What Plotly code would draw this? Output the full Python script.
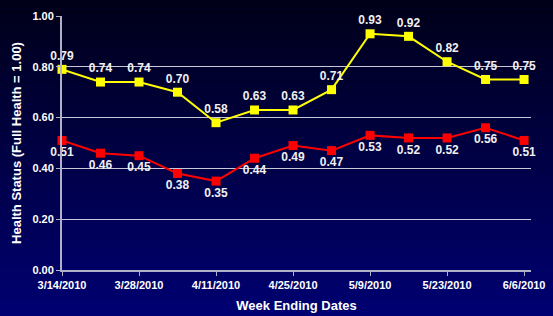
import plotly.graph_objects as go

weeks = ["3/14/2010", "3/21/2010", "3/28/2010", "4/4/2010", "4/11/2010", "4/18/2010", "4/25/2010",
         "5/2/2010", "5/9/2010", "5/16/2010", "5/23/2010", "5/30/2010", "6/6/2010"]
yellow_vals = [0.79, 0.74, 0.74, 0.70, 0.58, 0.63, 0.63, 0.71, 0.93, 0.92, 0.82, 0.75, 0.75]
red_vals = [0.51, 0.46, 0.45, 0.38, 0.35, 0.44, 0.49, 0.47, 0.53, 0.52, 0.52, 0.56, 0.51]
tick_idx = [0, 2, 4, 6, 8, 10, 12]
y_ticks = [0, 0.2, 0.4, 0.6, 0.8, 1.0]

x = list(range(len(weeks)))
font = "Liberation Sans, Arial, sans-serif"

fig = go.Figure()
fig.add_trace(go.Scatter(
    x=x, y=yellow_vals, mode="lines+markers+text",
    line=dict(color="#ffff00", width=2),
    marker=dict(symbol="square", size=9, color="#ffff00"),
    text=[f"{v:.2f}" for v in yellow_vals], textposition="top center",
    textfont=dict(color="#f0f0f0", size=12, family=font, weight="bold"),
    cliponaxis=False, showlegend=False))
fig.add_trace(go.Scatter(
    x=x, y=red_vals, mode="lines+markers+text",
    line=dict(color="#ff0000", width=2),
    marker=dict(symbol="square", size=9, color="#ff0000"),
    text=[f"{v:.2f}" for v in red_vals], textposition="bottom center",
    textfont=dict(color="#f0f0f0", size=12, family=font, weight="bold"),
    cliponaxis=False, showlegend=False))

# background gradient
shapes = []
n = 60
top = (0, 0, 22)
bot = (0, 0, 122)
for i in range(n):
    t = i / (n - 1)
    c = tuple(int(round(top[k] + (bot[k] - top[k]) * t)) for k in range(3))
    shapes.append(dict(type="rect", xref="paper", yref="paper",
                       x0=-0.2, x1=1.2, y0=1.1 - (i + 1) * 1.4 / n, y1=1.1 - i * 1.4 / n + 0.001,
                       fillcolor=f"rgb{c}", line=dict(width=0), layer="below"))

fig.update_layout(
    width=553, height=316,
    margin=dict(l=62, r=22, t=16, b=46),
    paper_bgcolor="#000050", plot_bgcolor="rgba(0,0,0,0)",
    shapes=shapes,
    font=dict(family=font, color="#ffffff"),
    xaxis=dict(range=[0, 12.18], tickmode="array", tickvals=tick_idx,
               ticktext=[weeks[i] for i in tick_idx], automargin=False,
               showgrid=False, zeroline=False, showline=True, linecolor="#b0b0c8", linewidth=2,
               ticks="outside", ticklen=4, tickcolor="#b0b0c8",
               tickfont=dict(size=11, family=font, color="#ffffff", weight="bold"),
               title=dict(text="Week Ending Dates", standoff=11,
                          font=dict(size=13, family=font, color="#ffffff", weight="bold"))),
    yaxis=dict(range=[0, 1.0], tickvals=y_ticks, tickformat=".2f", automargin=False,
               showgrid=True, gridcolor="#c8c8d8", gridwidth=1, zeroline=False,
               showline=True, linecolor="#b0b0c8", linewidth=2,
               ticks="outside", ticklen=4, tickcolor="#b0b0c8",
               tickfont=dict(size=11, family=font, color="#ffffff", weight="bold"),
               title=dict(text="Health Status (Full Health = 1.00)", standoff=8,
                          font=dict(size=13, family=font, color="#ffffff", weight="bold"))),
)

fig.write_html("out.html", config={"displayModeBar": False},
               post_script="document.body.style.margin='0';document.body.style.overflow='hidden';")
